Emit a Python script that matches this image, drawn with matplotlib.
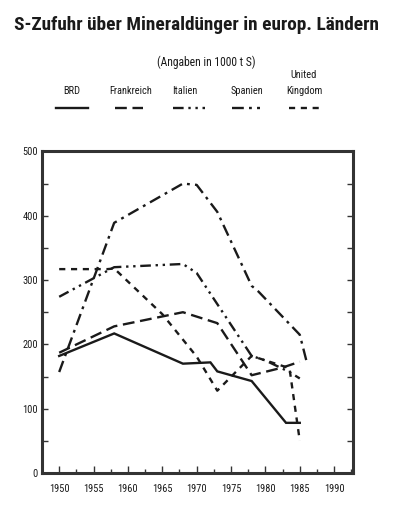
import matplotlib
matplotlib.use("Agg")
import matplotlib.pyplot as plt
import matplotlib.font_manager as fm
from matplotlib.lines import Line2D
from matplotlib.ticker import MultipleLocator

# ---- data ----
countries = ["BRD", "Frankreich", "Italien", "Spanien", "United\nKingdom"]

years_brd = [1950, 1958, 1968, 1972, 1973, 1978, 1983, 1985]
brd = [182, 217, 170, 172, 158, 143, 78, 78]

years_fr = [1950, 1958, 1968, 1973, 1978, 1982.5, 1985]
fr = [187, 228, 250, 233, 152, 164, 173]

years_it = [1950, 1958, 1968, 1970, 1978, 1980, 1983.5, 1985]
it = [274, 320, 325, 311, 182, 175, 157, 147]

years_es = [1950, 1958, 1968, 1970, 1973, 1978, 1979, 1985, 1986]
es = [157, 389, 450, 448, 406, 291, 282, 215, 173]

years_uk = [1950, 1957, 1958, 1965, 1970, 1973, 1978, 1983.5, 1985]
uk = [317, 317, 318, 247, 181, 128, 182, 163, 50]

xticks = [1950, 1955, 1960, 1965, 1970, 1975, 1980, 1985, 1990]
xticklabels = ["1950", "1955", "1960", "1965", "1970", "1975", "1980", "1985", "1990"]
yticks = [0, 100, 200, 300, 400, 500]


# ---- font choice: prefer a condensed face ----
def _installed(fam):
    try:
        fm.findfont(fm.FontProperties(family=fam), fallback_to_default=False)
        return True
    except Exception:
        return False


FAM = "DejaVu Sans"
STRETCH = "normal"
for cand in ["Liberation Sans Narrow", "Roboto Condensed", "Open Sans Condensed",
             "DejaVu Sans Condensed"]:
    if _installed(cand):
        FAM = cand
        break
else:
    if any(f.name == "DejaVu Sans" and str(f.stretch) in ("condensed", "semi-condensed")
           for f in fm.fontManager.ttflist):
        STRETCH = "condensed"

NARROW = [FAM, "DejaVu Sans"]
plt.rcParams["font.family"] = NARROW
plt.rcParams["font.stretch"] = STRETCH
INK = "#1a1a1a"
LW = 1.7
styles = [
    dict(linestyle="-"),
    dict(linestyle=(0, (5.0, 2.4))),
    dict(linestyle=(0, (4.5, 2.0, 1.0, 2.0, 1.0, 2.0))),
    dict(linestyle=(0, (5.0, 2.2, 1.2, 2.2))),
    dict(linestyle=(0, (2.6, 2.4))),
]

fig = plt.figure(figsize=(3.94, 5.17), dpi=100)
fig.patch.set_facecolor("white")
ax = fig.add_axes([0.1066, 0.0851, 0.7886, 0.622])

series = [(years_brd, brd), (years_fr, fr), (years_it, it), (years_es, es), (years_uk, uk)]
for (xs, ys), st in zip(series, styles):
    ax.plot(xs, ys, color=INK, lw=LW, solid_joinstyle="miter", **st)

ax.set_xlim(1947.5, 1992.7)
ax.set_ylim(0, 500)
ax.set_xticks(xticks)
ax.set_xticklabels(xticklabels)
ax.xaxis.set_minor_locator(MultipleLocator(2.5))
ax.set_yticks(yticks)
ax.yaxis.set_minor_locator(MultipleLocator(50))

ax.tick_params(axis="x", which="both", direction="in", bottom=True, top=False,
               colors="#333333", labelcolor=INK, labelsize=7.5, pad=8)
ax.tick_params(axis="x", which="major", length=5, width=1.0)
ax.tick_params(axis="x", which="minor", length=3, width=1.0)
ax.tick_params(axis="y", which="both", direction="in", left=True, right=True,
               colors="#333333", labelcolor=INK, labelsize=7.5, pad=3)
ax.tick_params(axis="y", which="major", length=4, width=1.0)
ax.tick_params(axis="y", which="minor", length=4, width=1.0)
for sp in ax.spines.values():
    sp.set_linewidth(2.2)
    sp.set_color("#333333")

# ---- title texts ----
title = fig.text(0.5, 1 - 25 / 517, "S-Zufuhr über Mineraldünger in europ. Ländern",
                 ha="center", va="center", fontsize=17, fontweight="bold", color=INK,
                 family=NARROW, fontstretch=STRETCH)
sub = fig.text(206 / 394, 1 - 62 / 517, "(Angaben in 1000 t S)", ha="center", va="center",
               fontsize=10, color=INK, family=NARROW, fontstretch=STRETCH)

# ---- legend (manual) ----
label_x = [72, 131, 185, 247, 304]
key_x = [(56, 88), (115, 143), (173, 205), (232, 260), (289, 322)]
for lab, lx, (k0, k1), st in zip(countries, label_x, key_x, styles):
    fig.text(lx / 394, 1 - 96 / 517, lab, ha="center", va="bottom",
             fontsize=7.5, color=INK, family=NARROW, fontstretch=STRETCH,
             linespacing=1.75)
    fig.add_artist(Line2D([k0 / 394, k1 / 394], [1 - 108 / 517] * 2,
                          transform=fig.transFigure, color=INK, lw=LW, **st))

# shrink the title / subtitle to the reference widths if the face is too wide
fig.canvas.draw()
r = fig.canvas.get_renderer()
for t, target in [(title, 364), (sub, 98)]:
    w = t.get_window_extent(r).width
    if w > target:
        t.set_fontsize(t.get_fontsize() * target / w)

fig.savefig("out.png", dpi=100, facecolor="white")
